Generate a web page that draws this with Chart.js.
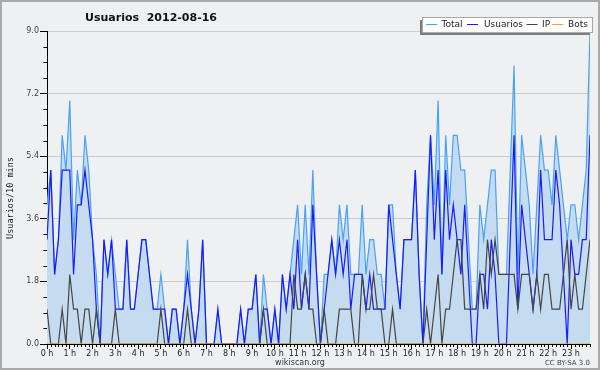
<!DOCTYPE html>
<html lang="es">
<head>
    <meta charset="UTF-8">
    <title>Usuarios 2012-08-16</title>
    <style>
        html, body { margin: 0; padding: 0; background: #eff0f2; }
        canvas { display: block; }
    </style>
</head>
<body>
    <canvas id="usersChart" width="600" height="370"></canvas>

    <script src="https://cdn.jsdelivr.net/npm/chart.js"></script>
    <script>
        // one value per 10 minutes, 2012-08-16 00:00 .. 23:50
        const usuarios = [
            3, 5, 2, 3, 5, 5, 5, 2, 4, 4,
            5, 4, 3, 1, 0, 3, 2, 3, 1, 1,
            1, 3, 1, 1, 2, 3, 3, 2, 1, 1,
            1, 1, 0, 1, 1, 0, 1, 2, 1, 0,
            1, 3, 0, 0, 0, 1, 0, 0, 0, 0,
            0, 1, 0, 1, 1, 2, 0, 1, 1, 0,
            1, 0, 2, 1, 2, 1, 3, 1, 2, 1,
            4, 2, 0, 1, 2, 3, 2, 3, 2, 3,
            1, 2, 2, 2, 1, 2, 1, 1, 1, 1,
            4, 3, 2, 1, 3, 3, 3, 5, 2, 0,
            3, 6, 3, 5, 2, 5, 3, 4, 3, 2,
            4, 2, 0, 0, 2, 2, 1, 3, 2, 0,
            0, 0, 3, 6, 1, 4, 3, 2, 1, 2,
            5, 3, 3, 3, 5, 4, 2, 0, 3, 2,
            2, 3, 3, 6
        ];
        const ip = [
            1, 0, 0, 0, 1, 0, 2, 1, 1, 0,
            1, 1, 0, 1, 0, 0, 0, 0, 1, 0,
            0, 0, 0, 0, 0, 0, 0, 0, 0, 0,
            1, 0, 0, 0, 0, 0, 0, 1, 0, 0,
            0, 0, 0, 0, 0, 0, 0, 0, 0, 0,
            0, 0, 0, 0, 0, 0, 0, 1, 0, 0,
            0, 0, 0, 0, 0, 2, 1, 1, 2, 1,
            1, 0, 0, 1, 0, 0, 0, 1, 1, 1,
            1, 0, 0, 2, 1, 1, 2, 1, 1, 0,
            0, 1, 0, 0, 0, 0, 0, 0, 0, 0,
            1, 0, 1, 2, 0, 1, 1, 2, 3, 3,
            1, 1, 1, 1, 2, 1, 3, 2, 3, 2,
            2, 2, 2, 2, 1, 2, 2, 2, 1, 2,
            1, 2, 2, 1, 1, 1, 2, 3, 1, 2,
            1, 1, 2, 3
        ];
        const total = [
            4, 5, 2, 3, 6, 5, 7, 3, 5, 4,
            6, 5, 3, 2, 0, 3, 2, 3, 2, 1,
            1, 3, 1, 1, 2, 3, 3, 2, 1, 1,
            2, 1, 0, 1, 1, 0, 1, 3, 1, 0,
            1, 3, 0, 0, 0, 1, 0, 0, 0, 0,
            0, 1, 0, 1, 1, 2, 0, 2, 1, 0,
            1, 0, 2, 1, 2, 3, 4, 2, 4, 2,
            5, 2, 0, 2, 2, 3, 2, 4, 3, 4,
            2, 2, 2, 4, 2, 3, 3, 2, 2, 1,
            4, 4, 2, 1, 3, 3, 3, 5, 2, 0,
            4, 6, 4, 7, 2, 6, 4, 6, 6, 5,
            5, 3, 1, 1, 4, 3, 4, 5, 5, 2,
            2, 2, 5, 8, 2, 6, 5, 4, 2, 4,
            6, 5, 5, 4, 6, 5, 4, 3, 4, 4,
            3, 4, 5, 9
        ];
        const bots = [
            0, 0, 0, 0, 0, 0, 0, 0, 0, 0, 0, 0, 0, 0, 0, 0, 0, 0, 0, 0, 0, 0, 0, 0,
            0, 0, 0, 0, 0, 0, 0, 0, 0, 0, 0, 0, 0, 0, 0, 0, 0, 0, 0, 0, 0, 0, 0, 0,
            0, 0, 0, 0, 0, 0, 0, 0, 0, 0, 0, 0, 0, 0, 0, 0, 0, 0, 0, 0, 0, 0, 0, 0,
            0, 0, 0, 0, 0, 0, 0, 0, 0, 0, 0, 0, 0, 0, 0, 0, 0, 0, 0, 0, 0, 0, 0, 0,
            0, 0, 0, 0, 0, 0, 0, 0, 0, 0, 0, 0, 0, 0, 0, 0, 0, 0, 0, 0, 0, 0, 0, 0,
            0, 0, 0, 0, 0, 0, 0, 0, 0, 0, 0, 0, 0, 0, 0, 0, 0, 0, 0, 0, 0, 0, 0, 0
        ];
        const hourLabels = [
            '0 h', '1 h', '2 h', '3 h', '4 h', '5 h', '6 h', '7 h', '8 h', '9 h', '10 h', '11 h',
            '12 h', '13 h', '14 h', '15 h', '16 h', '17 h', '18 h', '19 h', '20 h', '21 h', '22 h', '23 h'
        ];
        const yMajorTicks = [0, 1.8, 3.6, 5.4, 7.2, 9.0];

        const FONT = '"DejaVu Sans", sans-serif';
        const isMajorY = v => yMajorTicks.some(m => Math.abs(m - v) < 1e-6);
        const toPoints = arr => arr.map((v, i) => ({ x: i, y: v }));

        // texts, legend box, small ticks and frame drawn around the chart
        const decorations = {
            id: 'decorations',
            beforeDraw(chart) {
                const ctx = chart.ctx;
                ctx.save();
                ctx.fillStyle = '#eff0f2';
                ctx.fillRect(0, 0, chart.width, chart.height);
                ctx.restore();
            },
            afterDraw(chart) {
                const { ctx, scales: { x, y } } = chart;
                ctx.save();

                // minor ticks
                ctx.strokeStyle = '#000';
                ctx.lineWidth = 1;
                ctx.beginPath();
                y.ticks.forEach(t => {
                    if (isMajorY(t.value)) return;
                    const py = Math.round(y.getPixelForValue(t.value)) + 0.5;
                    ctx.moveTo(y.right - 3.5, py);
                    ctx.lineTo(y.right, py);
                });
                x.ticks.forEach(t => {
                    if (t.value % 6 === 0) return;
                    const px = Math.round(x.getPixelForValue(t.value)) + 0.5;
                    ctx.moveTo(px, x.top);
                    ctx.lineTo(px, x.top + 3);
                });
                ctx.stroke();

                // title
                ctx.fillStyle = '#111';
                ctx.font = 'bold 11px ' + FONT;
                ctx.textAlign = 'center';
                ctx.textBaseline = 'alphabetic';
                ctx.fillText('Usuarios  2012-08-16', 151, 20.5);

                // y axis title
                ctx.save();
                ctx.translate(13, 198);
                ctx.rotate(-Math.PI / 2);
                ctx.font = '8.5px "DejaVu Sans Mono", monospace';
                ctx.fillStyle = '#222';
                ctx.fillText('Usuarios/10 mins', 0, 0);
                ctx.restore();

                // footer
                ctx.font = '8px ' + FONT;
                ctx.fillStyle = '#333';
                ctx.fillText('wikiscan.org', 300, 365);
                ctx.font = '7px ' + FONT;
                ctx.textAlign = 'right';
                ctx.fillStyle = '#444';
                ctx.fillText('CC BY-SA 3.0', 590, 365);

                // legend
                ctx.fillStyle = '#7d7d7d';
                ctx.fillRect(420, 20, 170, 15);
                ctx.fillStyle = '#ffffff';
                ctx.fillRect(422.5, 17.5, 170, 15);
                ctx.strokeStyle = '#a8a8a8';
                ctx.strokeRect(422.5, 17.5, 170, 15);
                const entries = [
                    { line: 426, text: 441.5 },
                    { line: 467, text: 484 },
                    { line: 526.5, text: 542 },
                    { line: 552, text: 568 }
                ];
                ctx.font = '9px ' + FONT;
                ctx.textAlign = 'left';
                ctx.textBaseline = 'middle';
                chart.data.datasets.forEach((ds, i) => {
                    const e = entries[i];
                    ctx.strokeStyle = ds.borderColor;
                    ctx.beginPath();
                    ctx.moveTo(e.line, 24.5);
                    ctx.lineTo(e.line + 11, 24.5);
                    ctx.stroke();
                    ctx.fillStyle = '#222';
                    ctx.fillText(ds.label, e.text, 25);
                });

                // outer frame
                ctx.strokeStyle = '#a9a9a9';
                ctx.lineWidth = 2;
                ctx.strokeRect(1, 1, chart.width - 2, chart.height - 2);
                ctx.restore();
            }
        };

        new Chart(document.getElementById('usersChart'), {
            type: 'line',
            data: {
                datasets: [
                    {
                        label: 'Total',
                        data: toPoints(total),
                        borderColor: '#48a2f5',
                        backgroundColor: '#c5dcf0',
                        fill: 'origin',
                        order: 4
                    },
                    {
                        label: 'Usuarios',
                        data: toPoints(usuarios),
                        borderColor: '#1a1aff',
                        fill: false,
                        order: 3
                    },
                    {
                        label: 'IP',
                        data: toPoints(ip),
                        borderColor: '#454545',
                        fill: false,
                        order: 2
                    },
                    {
                        label: 'Bots',
                        data: toPoints(bots),
                        borderColor: '#ffa31a',
                        fill: false,
                        order: 1
                    }
                ]
            },
            options: {
                responsive: false,
                animation: false,
                layout: { padding: { left: 0, right: 10, top: 31, bottom: 0 } },
                elements: {
                    point: { radius: 0 },
                    line: { borderWidth: 1.2, tension: 0 }
                },
                plugins: {
                    legend: { display: false },
                    title: { display: false },
                    tooltip: { enabled: false }
                },
                scales: {
                    x: {
                        type: 'linear',
                        min: 0,
                        max: 143,
                        z: 1,
                        afterFit: scale => { scale.height = 26; },
                        border: { display: true, color: '#000', width: 1 },
                        grid: {
                            drawOnChartArea: false,
                            drawTicks: true,
                            tickLength: 5,
                            tickColor: ctx => (ctx.tick && ctx.tick.value % 6 === 0) ? '#000' : 'transparent'
                        },
                        ticks: {
                            stepSize: 1,
                            autoSkip: false,
                            maxRotation: 0,
                            padding: 0,
                            color: '#222',
                            font: { family: FONT, size: 8 },
                            callback: v => (v % 6 === 0 ? hourLabels[v / 6] : '')
                        }
                    },
                    y: {
                        min: 0,
                        max: 9,
                        afterFit: scale => { scale.width = 47; },
                        border: { display: true, color: '#000', width: 1 },
                        grid: {
                            color: ctx => (ctx.tick && isMajorY(ctx.tick.value) && ctx.tick.value > 0) ? '#cdcdcd' : 'transparent',
                            tickColor: ctx => (ctx.tick && isMajorY(ctx.tick.value)) ? '#000' : 'transparent',
                            tickLength: 7
                        },
                        ticks: {
                            stepSize: 0.45,
                            autoSkip: false,
                            padding: 1,
                            color: '#444',
                            font: { family: FONT, size: 8 },
                            callback: v => (isMajorY(v) ? v.toFixed(1) : '')
                        }
                    }
                }
            },
            plugins: [decorations]
        });
    </script>
</body>
</html>
